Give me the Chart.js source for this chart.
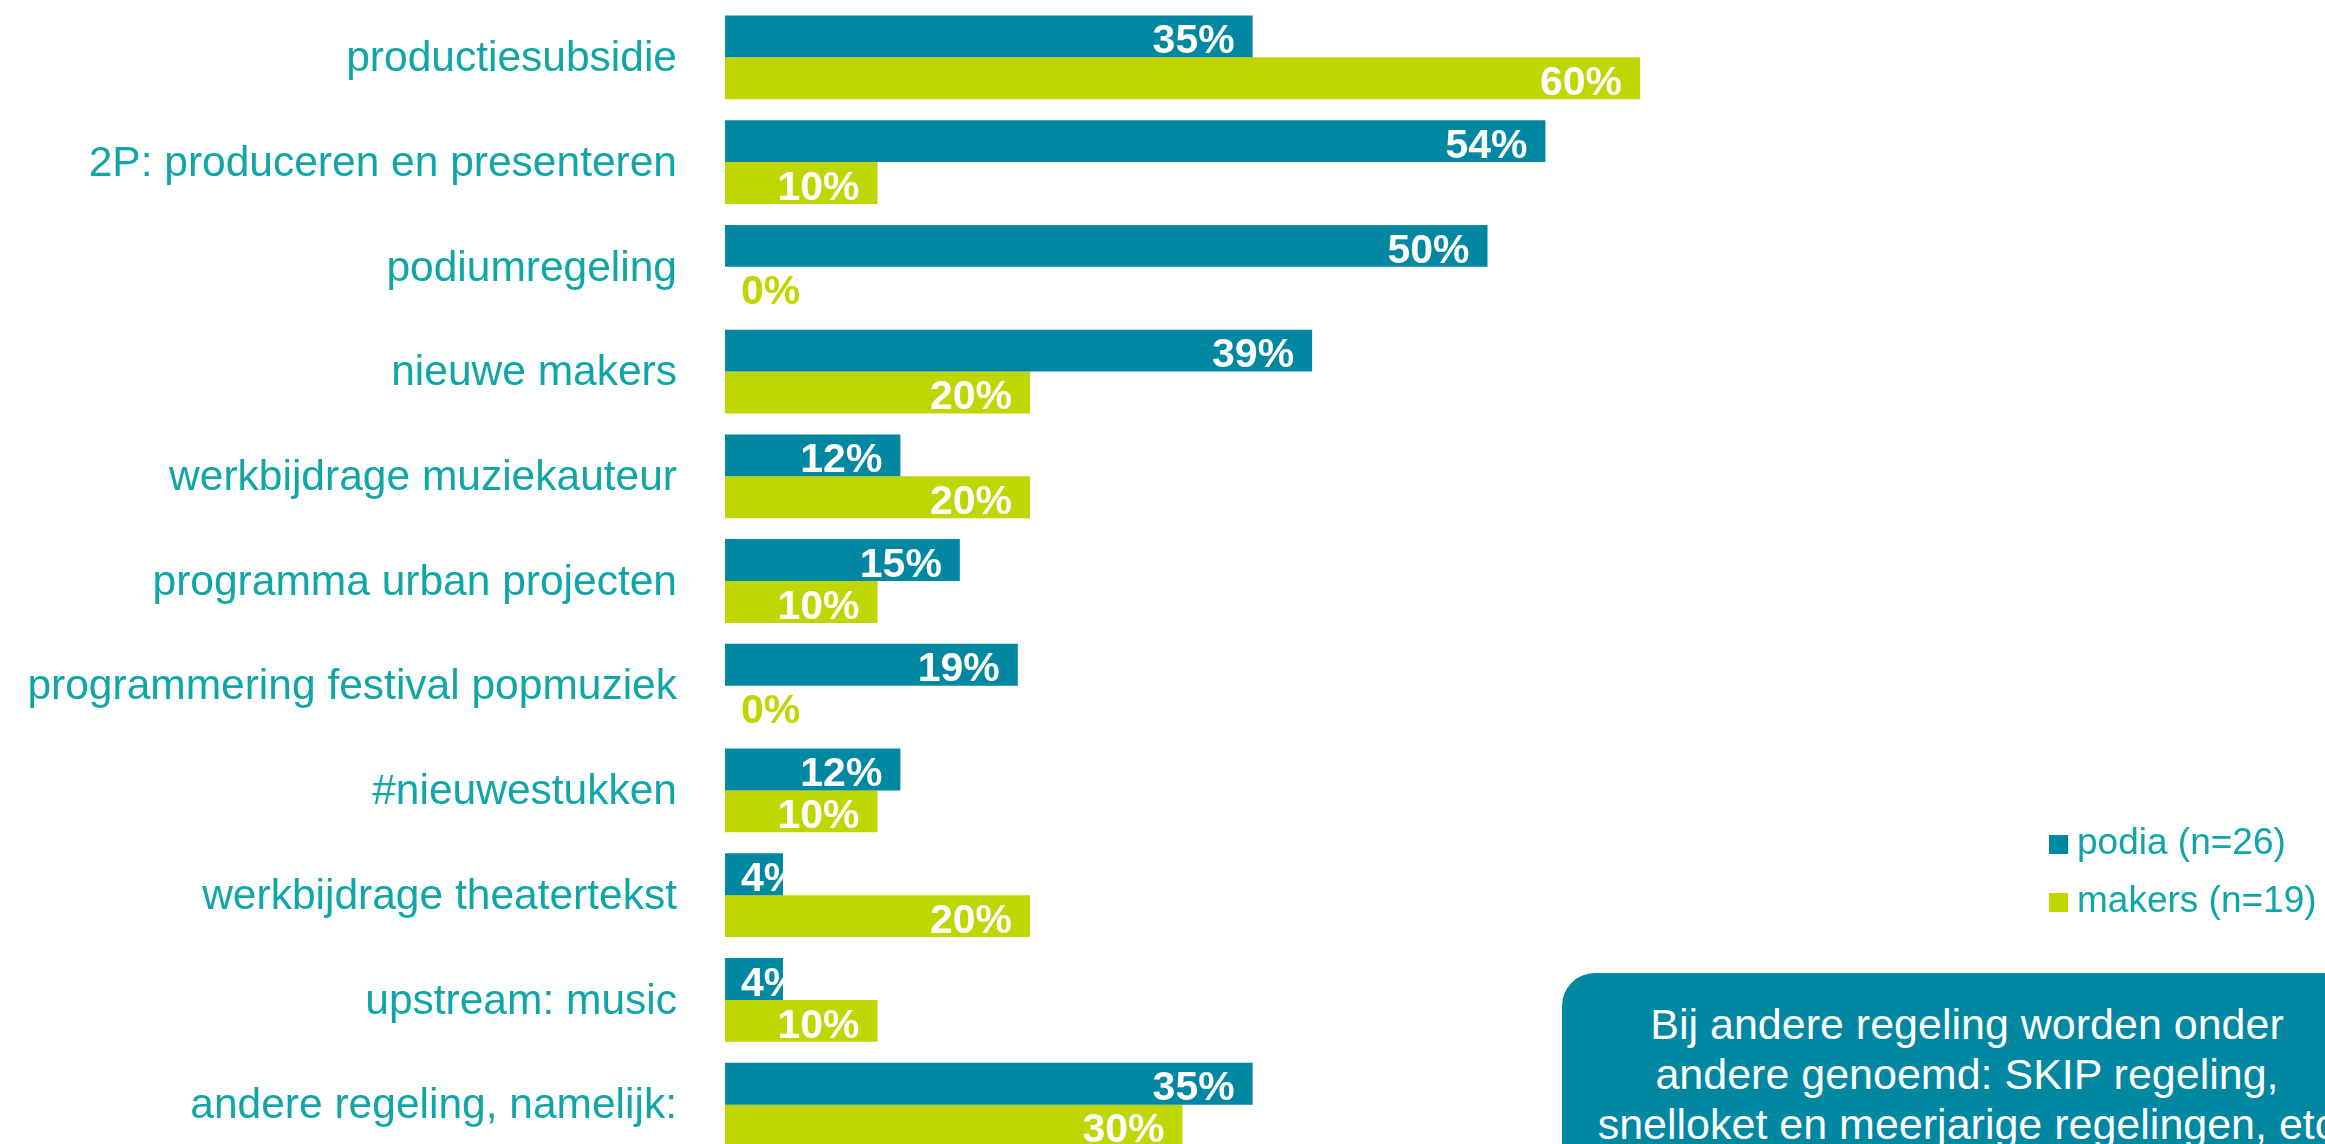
<!DOCTYPE html>
<html>
<head>
<meta charset="utf-8">
<script src="https://cdn.jsdelivr.net/npm/chart.js@4/dist/chart.umd.min.js"></script>
<style>
  html, body { margin: 0; padding: 0; background: #fff; overflow: hidden; }
  body { width: 2325px; height: 1144px; position: relative; font-family: "Liberation Sans", Arial, sans-serif; }
  #wrap { position: absolute; left: 0; top: 0; width: 2325px; height: 1162px; }
  .legend { position: absolute; left: 2049px; color: #10A6A8; font-size: 37px; line-height: 40px; white-space: nowrap; }
  .legend i { display: inline-block; width: 19px; height: 19px; margin-right: 9px; vertical-align: 0; }
  #note {
    position: absolute; left: 1562px; top: 973px; width: 810px; height: 260px;
    background: #0088A3; border-radius: 33px; color: #fff; white-space: nowrap;
    font-size: 43px; line-height: 50px; text-align: center; padding-top: 26px; box-sizing: border-box;
  }
</style>
</head>
<body>
<div id="wrap"><canvas id="chart"></canvas></div>
<div class="legend" style="top:822px"><i style="background:#0088A3"></i>podia (n=26)</div>
<div class="legend" style="top:880px"><i style="background:#BFD600"></i>makers (n=19)</div>
<div id="note">Bij andere regeling worden onder<br>andere genoemd: SKIP regeling,<br>snelloket en meerjarige regelingen, etc</div>
<script>
var categories = [
  'productiesubsidie',
  '2P: produceren en presenteren',
  'podiumregeling',
  'nieuwe makers',
  'werkbijdrage muziekauteur',
  'programma urban projecten',
  'programmering festival popmuziek',
  '#nieuwestukken',
  'werkbijdrage theatertekst',
  'upstream: music',
  'andere regeling, namelijk:'
];
var podia  = [34.6, 53.8, 50, 38.5, 11.5, 15.4, 19.2, 11.5, 3.8, 3.8, 34.6];
var makers = [60, 10, 0, 20, 20, 10, 0, 10, 20, 10, 30];

var seriesNames = ['podia (n=26)', 'makers (n=19)'];
var seriesColors = ['#0088A3', '#BFD600'];

// labels inside the bar end, white; falls back to the bar start when it doesn't fit
var barLabels = {
  id: 'barLabels',
  afterDatasetsDraw(chart) {
    let ctx = chart.ctx;
    let size = 41;
    ctx.save();
    ctx.font = 'bold ' + size + 'px "Liberation Sans", Arial, sans-serif';
    ctx.textBaseline = 'alphabetic';
    chart.data.datasets.forEach((ds, i) => {
      let meta = chart.getDatasetMeta(i);
      meta.data.forEach((bar, j) => {
        let v = ds.data[j];
        let txt = Math.round(v) + '%';
        let w = ctx.measureText(txt).width;
        let x = bar.x - 18 - w;
        if (x < bar.base + 16) x = bar.base + 16;
        ctx.fillStyle = v === 0 ? ds.backgroundColor : '#ffffff';
        ctx.textAlign = 'left';
        // digits centred ~2px under the bar centre
        ctx.fillText(txt, x, bar.y + 2 + size * 0.358);
      });
    });
    ctx.restore();
  }
};

var myChart = new Chart(document.getElementById('chart'), {
  type: 'bar',
  data: {
    labels: categories,
    datasets: [
      { label: seriesNames[0], data: podia, backgroundColor: seriesColors[0] },
      { label: seriesNames[1], data: makers, backgroundColor: seriesColors[1] }
    ]
  },
  options: {
    indexAxis: 'y',
    responsive: true,
    maintainAspectRatio: false,
    animation: false,
    categoryPercentage: 0.8,
    barPercentage: 1,
    layout: { padding: { top: 5, bottom: 5, left: 0, right: 75 } },
    plugins: { legend: { display: false }, tooltip: { enabled: false } },
    scales: {
      x: { display: false, min: 0, max: 100 },
      y: {
        grid: { display: false, drawTicks: false },
        border: { display: false },
        ticks: {
          color: '#10A6A8',
          padding: 48,
          labelOffset: 2,
          font: { family: '"Liberation Sans", Arial, sans-serif', size: 42.5 }
        },
        afterFit(scale) {
          scale.width = 725;
          // tick padding would otherwise also pad top/bottom
          scale.paddingTop = 0;
          scale.paddingBottom = 0;
        }
      }
    }
  },
  plugins: [barLabels]
});
</script>
</body>
</html>
